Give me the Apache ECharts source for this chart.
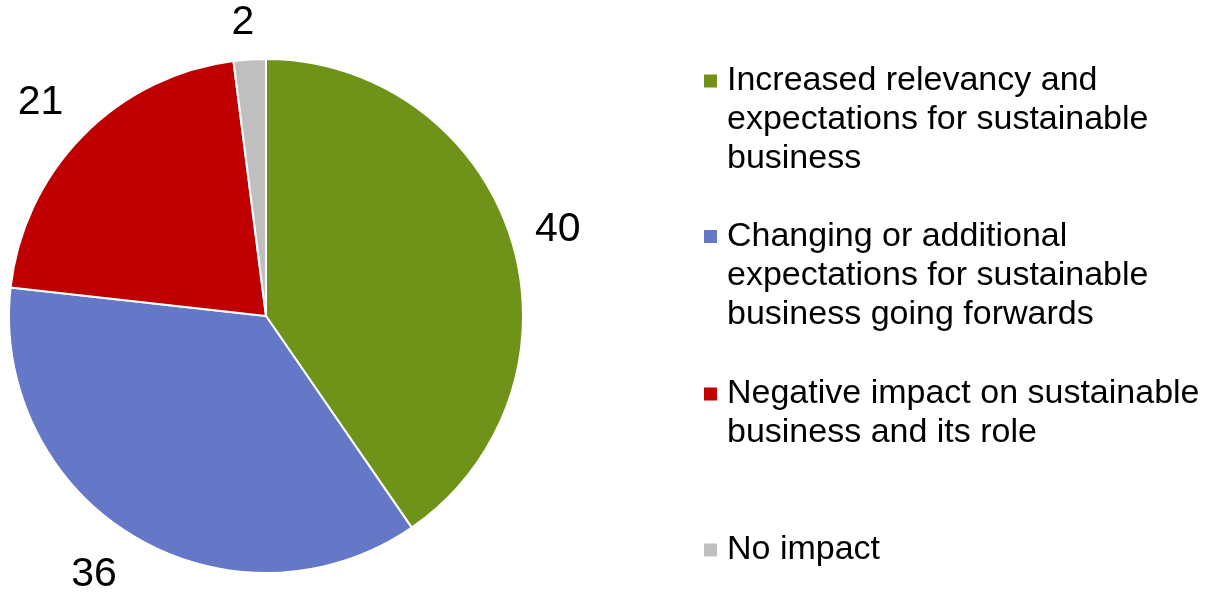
<!DOCTYPE html>
<html>
<head>
<meta charset="utf-8">
<title>Impact on sustainable business</title>
<script src="https://cdn.jsdelivr.net/npm/echarts@6/dist/echarts.min.js"></script>
<style>
  html, body { margin: 0; padding: 0; background: #ffffff; }
  #chart { width: 1211px; height: 595px; }
</style>
</head>
<body>
<div id="chart"></div>
<script>
// Answer categories (line breaks are where the legend text wraps)
const categories = [
  'Increased relevancy and\nexpectations for sustainable\nbusiness',
  'Changing or additional\nexpectations for sustainable\nbusiness going forwards',
  'Negative impact on sustainable\nbusiness and its role',
  'No impact'
];
// Share of responses per category
const values = [40, 36, 21, 2];
// Slice colours, in category order
const colors = ['#6F9219', '#6478C7', '#C00000', '#BFBFBF'];

const FONT = '"Liberation Sans", Arial, sans-serif';
const LINE_H = 39;
// vertical centre of each legend key square
const legendKeyY = [81, 236.5, 394, 550];
// outside-label placement per slice: radial gap and horizontal nudge
const labelGap = [34, 45, 47, 37];
const labelNudge = [-9, -6, -14, -7];

const chart = echarts.init(document.getElementById('chart'), null, { renderer: 'canvas' });

// One legend per category. The text is centred on the key, so blank lines
// are put in front to bring the first line level with the key.
const legends = categories.map((name, i) => {
  const lines = name.split('\n').length;
  return {
    orient: 'vertical',
    left: 702,
    top: legendKeyY[i] - LINE_H * lines + LINE_H / 2,
    padding: 0,
    itemWidth: 15,
    itemHeight: 15,
    icon: 'rect',
    selectedMode: false,
    data: [name],
    formatter: (n) => '\n'.repeat(lines - 1) + n,
    textStyle: {
      fontFamily: FONT,
      fontSize: 34,
      lineHeight: LINE_H,
      color: '#000000',
      padding: [0, 0, 0, 4]
    }
  };
});

chart.setOption({
  animation: false,
  backgroundColor: '#ffffff',
  legend: legends,
  series: [{
    type: 'pie',
    center: [266, 316],
    radius: 257,
    startAngle: 90,
    clockwise: true,
    avoidLabelOverlap: false,
    data: categories.map((name, i) => ({
      name: name,
      value: values[i],
      itemStyle: { color: colors[i] },
      label: { distanceToLabelLine: labelNudge[i] },
      labelLine: { length: labelGap[i] }
    })),
    itemStyle: { borderColor: '#ffffff', borderWidth: 2 },
    label: {
      show: true,
      position: 'outside',
      formatter: '{c}',
      fontFamily: FONT,
      fontSize: 41,
      color: '#000000'
    },
    labelLine: { show: false, length2: 0 },
    emphasis: { disabled: true }
  }]
});
</script>
</body>
</html>
